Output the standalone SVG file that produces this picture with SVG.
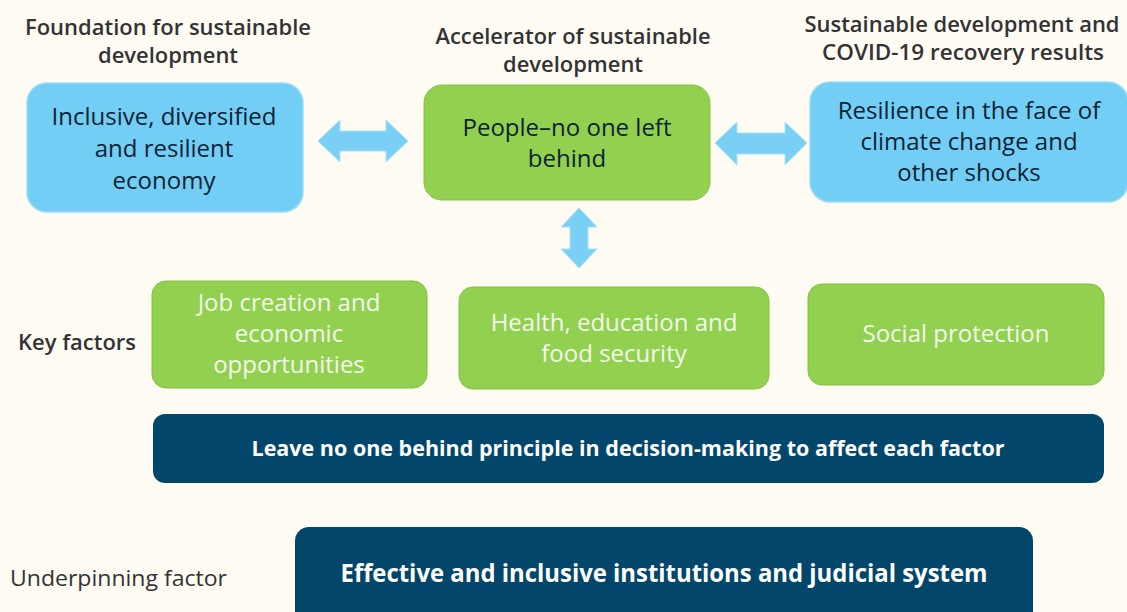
<svg xmlns="http://www.w3.org/2000/svg" width="1127" height="612" viewBox="0 0 1127 612">
<style>
.hdr{font-family:"Open Sans","Noto Sans",sans-serif;font-size:21px;font-weight:600;fill:#333333;text-anchor:middle}
.lbl{font-family:"Open Sans","Noto Sans",sans-serif;font-size:21px;fill:#333333}
.blue{fill:#72CEF5;stroke:#9ADBF5;stroke-width:1.5}
.green{fill:#92D050;stroke:#86C046;stroke-width:1}
.dark{fill:#02466B}
.btxt{font-family:"Open Sans","Noto Sans",sans-serif;font-size:24px;fill:#0F2233;text-anchor:middle}
.gtxt{font-family:"Open Sans","Noto Sans",sans-serif;font-size:24px;fill:#F3F9EC;text-anchor:middle}
.wtxt{font-family:"Open Sans","Noto Sans",sans-serif;font-weight:700;fill:#FFFFFF;text-anchor:middle}
.arr{fill:#7ACFF5;stroke:#A9E0F8;stroke-width:1}
</style>
<rect width="1127" height="612" fill="#FEFBF3"/>
<g id="headers">
<text class="hdr" x="168" y="35" textLength="286" lengthAdjust="spacingAndGlyphs">Foundation for sustainable</text>
<text class="hdr" x="168" y="63" textLength="140" lengthAdjust="spacingAndGlyphs">development</text>
<text class="hdr" x="573" y="44" textLength="275" lengthAdjust="spacingAndGlyphs">Accelerator of sustainable</text>
<text class="hdr" x="573" y="72" textLength="140" lengthAdjust="spacingAndGlyphs">development</text>
<text class="hdr" x="962" y="32" textLength="315" lengthAdjust="spacingAndGlyphs">Sustainable development and</text>
<text class="hdr" x="963" y="60" textLength="282" lengthAdjust="spacingAndGlyphs">COVID-19 recovery results</text>
<text class="lbl" x="18" y="350" font-weight="600" textLength="118" lengthAdjust="spacingAndGlyphs">Key factors</text>
<text class="lbl" x="10" y="586" textLength="217" lengthAdjust="spacingAndGlyphs">Underpinning factor</text>
</g>
<g id="node-economy">
<rect class="blue" x="27" y="83" width="276" height="129" rx="20"/>
<text class="btxt" x="164" y="125">Inclusive, diversified</text>
<text class="btxt" x="164" y="157">and resilient</text>
<text class="btxt" x="164" y="189">economy</text>
</g>
<g id="node-people">
<rect class="green" x="424" y="85" width="286" height="115" rx="18"/>
<text class="btxt" x="567" y="136">People–no one left</text>
<text class="btxt" x="567" y="167">behind</text>
</g>
<g id="node-resilience">
<rect class="blue" x="810" y="82" width="318" height="120" rx="20"/>
<text class="btxt" x="969" y="119">Resilience in the face of</text>
<text class="btxt" x="969" y="150">climate change and</text>
<text class="btxt" x="969" y="181">other shocks</text>
</g>
<g id="node-jobs">
<rect class="green" x="152" y="281" width="275" height="107" rx="14"/>
<text class="gtxt" x="289" y="311">Job creation and</text>
<text class="gtxt" x="289" y="342">economic</text>
<text class="gtxt" x="289" y="373">opportunities</text>
</g>
<g id="node-health">
<rect class="green" x="459" y="287" width="310" height="102" rx="14"/>
<text class="gtxt" x="614" y="331">Health, education and</text>
<text class="gtxt" x="614" y="362">food security</text>
</g>
<g id="node-social">
<rect class="green" x="808" y="284" width="296" height="101" rx="14"/>
<text class="gtxt" x="956" y="342">Social protection</text>
</g>
<g id="node-principle">
<rect class="dark" x="153" y="414" width="951" height="69" rx="12"/>
<text class="wtxt" x="628" y="456" font-size="21" textLength="753" lengthAdjust="spacingAndGlyphs">Leave no one behind principle in decision-making to affect each factor</text>
</g>
<g id="node-institutions">
<rect class="dark" x="295" y="527" width="738" height="100" rx="14"/>
<text class="wtxt" x="664" y="582" font-size="25" textLength="647" lengthAdjust="spacingAndGlyphs">Effective and inclusive institutions and judicial system</text>
</g>
<g id="connectors">
<path class="arr" d="M318,141 L340,120 L340,131 L386,131 L386,120 L408,141 L386,162 L386,151 L340,151 L340,162 Z"/>
<path class="arr" d="M715,143 L737,122 L737,133 L785,133 L785,122 L807,143 L785,165 L785,154 L737,154 L737,165 Z"/>
<path class="arr" d="M579,208 L597,227 L588,227 L588,249 L597,249 L579,268 L561,249 L570,249 L570,227 L561,227 Z"/>
</g>
</svg>
